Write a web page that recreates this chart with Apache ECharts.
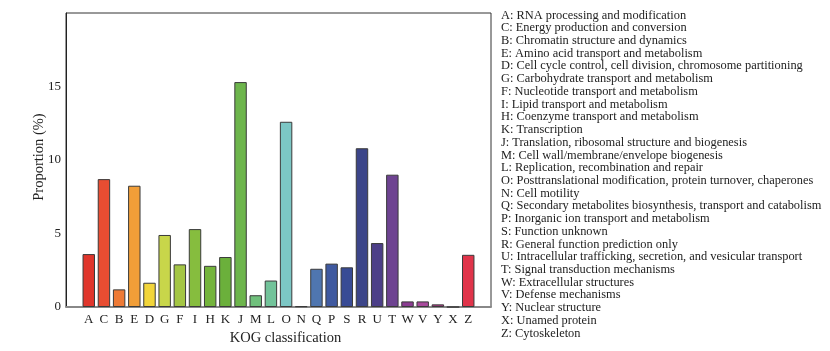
<!DOCTYPE html>
<html>
<head>
<meta charset="utf-8">
<script src="https://cdn.jsdelivr.net/npm/echarts@6/dist/echarts.min.js"></script>
<style>
  html, body { margin: 0; padding: 0; background: #ffffff; }
  #main { width: 830px; height: 351px; }
</style>
</head>
<body>
<div id="main"></div>
<script>
// KOG classes, in the order they are drawn
var categories = ['A', 'C', 'B', 'E', 'D', 'G', 'F', 'I', 'H', 'K', 'J', 'M', 'L', 'O', 'N',
                  'Q', 'P', 'S', 'R', 'U', 'T', 'W', 'V', 'Y', 'X', 'Z'];
// Proportion (%)
var proportions = [3.6, 8.7, 1.2, 8.25, 1.65, 4.9, 2.9, 5.3, 2.8, 3.4, 15.3, 0.8, 1.8, 12.6, 0.05,
                   2.6, 2.95, 2.7, 10.8, 4.35, 9.0, 0.38, 0.38, 0.18, 0, 3.55];
var barColors = ['#e0362c', '#e84d32', '#ee7a35', '#f19e38', '#f2d53a', '#c8d64a', '#a4c644', '#86bd3e',
                 '#74b43c', '#6bb03b', '#6db54c', '#70c07c', '#72c39a', '#7cc7c5', '#4a6fae',
                 '#4f76b0', '#3f59a0', '#384b95', '#3c4589', '#4c3f88', '#6e4391', '#8b3c92',
                 '#a84a9c', '#b13a8a', '#999999', '#e0344a'];
var yTicks = [0, 5, 10, 15];
var descriptions = [
    'A: RNA processing and modification',
    'C: Energy production and conversion',
    'B: Chromatin structure and dynamics',
    'E: Amino acid transport and metabolism',
    'D: Cell cycle control, cell division, chromosome partitioning',
    'G: Carbohydrate transport and metabolism',
    'F: Nucleotide transport and metabolism',
    'I: Lipid transport and metabolism',
    'H: Coenzyme transport and metabolism',
    'K: Transcription',
    'J: Translation, ribosomal structure and biogenesis',
    'M: Cell wall/membrane/envelope biogenesis',
    'L: Replication, recombination and repair',
    'O: Posttranslational modification, protein turnover, chaperones',
    'N: Cell motility',
    'Q: Secondary metabolites biosynthesis, transport and catabolism',
    'P: Inorganic ion transport and metabolism',
    'S: Function unknown',
    'R: General function prediction only',
    'U: Intracellular trafficking, secretion, and vesicular transport',
    'T: Signal transduction mechanisms',
    'W: Extracellular structures',
    'V: Defense mechanisms',
    'Y: Nuclear structure',
    'X: Unamed protein',
    'Z: Cytoskeleton'
];

var font = '"Liberation Serif", "DejaVu Serif", serif';

// one empty slot on each side, like the original frame
var xData = [''].concat(categories).concat(['']);
var barData = ['-'];
for (var i = 0; i < categories.length; i++) {
    barData.push({
        value: proportions[i],
        itemStyle: { color: barColors[i] }
    });
}
barData.push('-');

var myChart = echarts.init(document.getElementById('main'));
var option = {
    backgroundColor: '#ffffff',
    animation: false,
    grid: {
        left: 66,
        right: 339,
        top: 13,
        bottom: 42,
        show: true,
        borderColor: '#333333',
        borderWidth: 1
    },
    xAxis: {
        type: 'category',
        data: xData,
        name: 'KOG classification',
        nameLocation: 'middle',
        nameGap: 24,
        nameTextStyle: { fontFamily: font, fontSize: 14.5, color: '#222222', padding: [0, 0, 0, 14] },
        axisLine: { show: true, lineStyle: { color: '#888888', width: 2 } },
        axisTick: { show: false },
        axisLabel: { fontFamily: font, fontSize: 13, color: '#222222', margin: 6, interval: 0 }
    },
    yAxis: {
        type: 'value',
        min: 0,
        max: 20,
        interval: 5,
        name: 'Proportion (%)',
        nameLocation: 'middle',
        nameGap: 19,
        nameMoveOverlap: false,
        nameTextStyle: { fontFamily: font, fontSize: 14.5, color: '#222222', padding: [0, 0, 0, 6] },
        axisLine: { show: true, lineStyle: { color: '#222222', width: 1 } },
        axisTick: { show: false },
        splitLine: { show: false },
        axisLabel: {
            fontFamily: font, fontSize: 13, color: '#222222', margin: 5,
            formatter: function (v) { return yTicks.indexOf(v) >= 0 ? v : ''; }
        }
    },
    graphic: [{
        type: 'text',
        left: 501,
        top: 9,
        style: {
            text: descriptions.join('\n'),
            font: '12.4px ' + font,
            fill: '#222222',
            lineHeight: 12.72
        }
    }],
    series: [{
        type: 'bar',
        data: barData,
        barWidth: '82%',
        itemStyle: { borderColor: '#3a3a3a', borderWidth: 1 }
    }]
};
myChart.setOption(option);
</script>
</body>
</html>
